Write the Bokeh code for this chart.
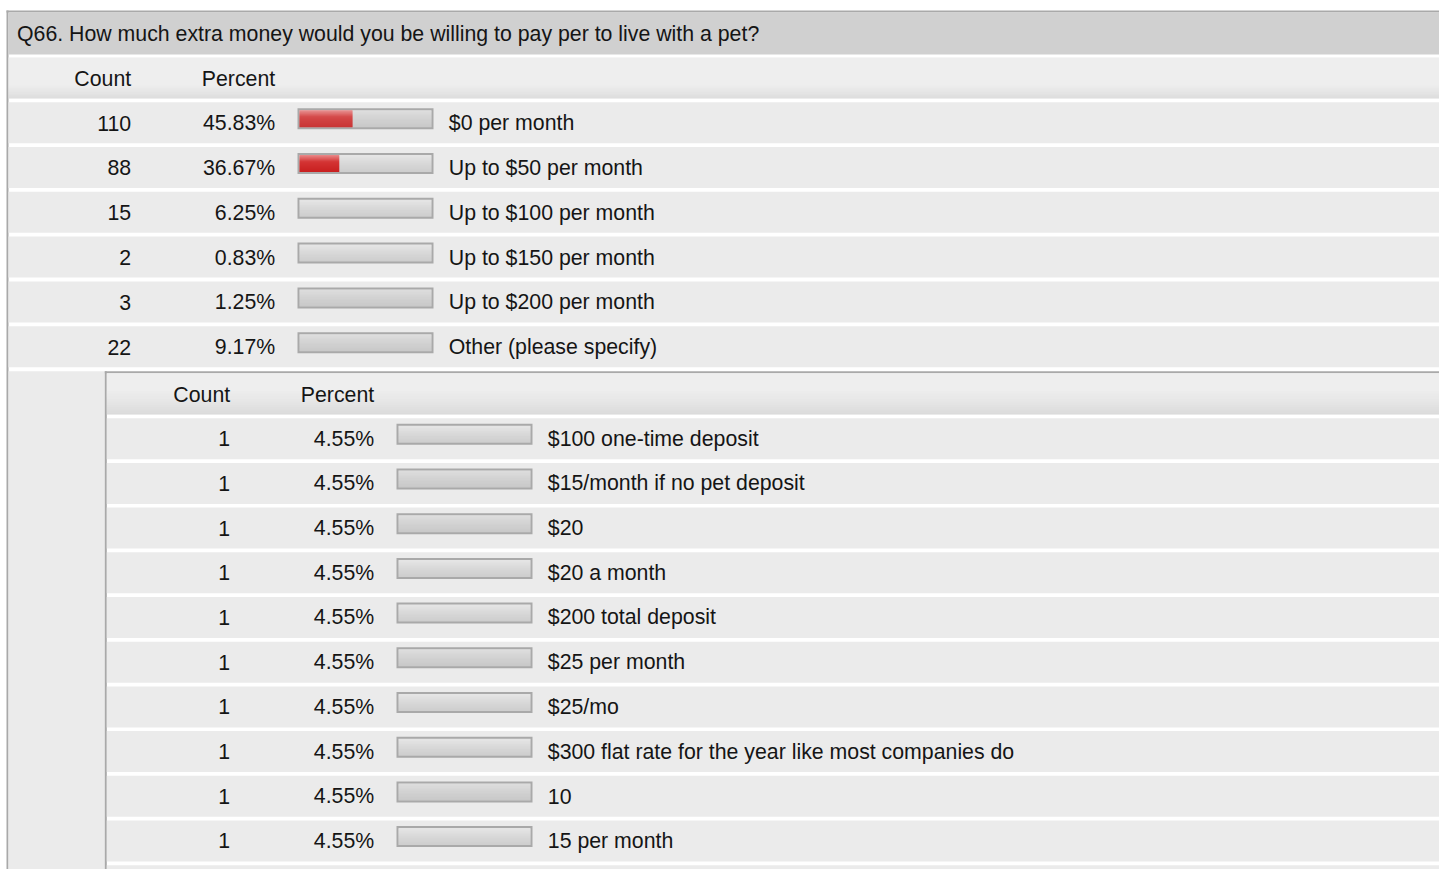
from bokeh.plotting import figure
from bokeh.models import Range1d
from bokeh.core.properties import value
from bokeh.embed import file_html
from bokeh.resources import INLINE

# ---------------- data ----------------
title = "Q66. How much extra money would you be willing to pay per to live with a pet?"
col_headers = ["Count", "Percent"]

answers = ["$0 per month", "Up to $50 per month", "Up to $100 per month",
           "Up to $150 per month", "Up to $200 per month", "Other (please specify)"]
answer_counts = [110, 88, 15, 2, 3, 22]
answer_pcts = [45.83, 36.67, 6.25, 0.83, 1.25, 9.17]

other_texts = ["$100 one-time deposit", "$15/month if no pet deposit", "$20", "$20 a month",
               "$200 total deposit", "$25 per month", "$25/mo",
               "$300 flat rate for the year like most companies do", "10", "15 per month"]
other_counts = [1, 1, 1, 1, 1, 1, 1, 1, 1, 1]
other_pcts = [4.55, 4.55, 4.55, 4.55, 4.55, 4.55, 4.55, 4.55, 4.55, 4.55]

# ---------------- figure ----------------
W, H = 1439, 869
XR, YB = W, H
p = figure(width=W, height=H, x_range=Range1d(0, W), y_range=Range1d(H, 0),
           output_backend="svg", toolbar_location=None, min_border=0,
           x_axis_type=None, y_axis_type=None,
           background_fill_color="white", border_fill_color="white",
           outline_line_color=None)
p.grid.visible = False

FONT = value("Liberation Sans")
FS = "21.3px"
TXT = "#151515"
ROW_BG = "#ebebeb"
BORDER = "#a9a9a9"
TY = -7.6   # text baseline correction


def hex2rgb(h):
    h = h.lstrip("#")
    return tuple(int(h[i:i + 2], 16) for i in (0, 2, 4))


def mix(c0, c1, t):
    a, b = hex2rgb(c0), hex2rgb(c1)
    return "#%02x%02x%02x" % tuple(int(round(a[k] + (b[k] - a[k]) * t)) for k in range(3))


def box(l, r, t, b, color):
    p.quad(left=[l], right=[r], top=[t], bottom=[b], fill_color=color, line_color=None)


def vgrad(l, r, t, b, stops, n=None):
    """vertical gradient; stops = [(frac, color), ...]"""
    if n is None:
        n = max(2, int(round(b - t)))
    L, R, T, B, C = [], [], [], [], []
    h = (b - t) / n
    for i in range(n):
        f = (i + 0.5) / n
        col = stops[-1][1]
        for j in range(len(stops) - 1):
            if stops[j][0] <= f <= stops[j + 1][0]:
                f0, c0 = stops[j]
                f1, c1 = stops[j + 1]
                col = mix(c0, c1, (f - f0) / (f1 - f0) if f1 > f0 else 0)
                break
        L.append(l); R.append(r); T.append(t + i * h)
        B.append(min(b, t + (i + 1) * h + 0.3)); C.append(col)
    p.quad(left=L, right=R, top=T, bottom=B, fill_color=C, line_color=None)


def bar(x, top, pct):
    box(x, x + 136, top, top + 21, BORDER)
    vgrad(x + 2, x + 134, top + 2, top + 19,
          [(0, "#e6e6e6"), (0.5, "#d8d8d8"), (1, "#cdcdcd")])
    fill = max(0.0, (pct - 9.2) * 1.447)
    if fill > 0:
        vgrad(x + 2, x + 2 + fill, top + 2, top + 19,
              [(0, "#ea8a8a"), (0.4, "#d43434"), (1, "#c81f1f")])


def txt(xs, ys, texts, align):
    p.text(x=xs, y=[y + TY for y in ys], text=texts, text_font=FONT, text_font_size=FS,
           text_align=align, text_baseline="alphabetic", text_color=TXT)


# ---------------- outer table ----------------
box(6, XR, 10, 12, BORDER)           # top border
box(6, 8, 10, YB, BORDER)            # left border
box(8, XR, 12, 54, "#d0d0d0")        # title band
vgrad(8, XR, 57, 98, [(0, ROW_BG), (0.68, ROW_BG), (1, "#d8d8d8")])
txt([16.5], [41.5], [title], "left")
CX, PX, LX = 130.7, 274.7, 448.3
txt([CX, PX], [86, 86], col_headers, "right")

PITCH = 44.8
rows_top = [101.7 + PITCH * i for i in range(len(answers))]
for t, pc in zip(rows_top, answer_pcts):
    box(8, XR, t, t + 41, ROW_BG)
    bar(297, t + 6, pc)

base = [t + 28.5 for t in rows_top]
txt([CX] * len(answers), base, [str(c) for c in answer_counts], "right")
txt([PX] * len(answers), base, ["%.2f%%" % v for v in answer_pcts], "right")
txt([LX] * len(answers), base, answers, "left")

# ---------------- nested "Other" table ----------------
NT = 370.7
box(8, 104.3, NT, YB, ROW_BG)            # left filler cell
box(104.3, 106.3, NT, YB, BORDER)        # nested left border
box(104.3, XR, NT, NT + 2, BORDER)       # nested top border
vgrad(106.3, XR, NT + 2, 414, [(0, ROW_BG), (0.47, ROW_BG), (1, "#d5d5d5")])
DX = 99
txt([CX + DX, PX + DX], [401.7, 401.7], col_headers, "right")

NPITCH = 44.7
nrows_top = [417.7 + NPITCH * i for i in range(len(other_texts))]
for t, pc in zip(nrows_top, other_pcts):
    box(106.3, XR, t, t + 41, ROW_BG)
    bar(297 + DX, t + 5.6, pc)
# start of the next row (cut off by the window)
box(106.3, XR, 417.7 + NPITCH * len(other_texts), YB + 50, ROW_BG)

nbase = [t + 28 for t in nrows_top]
txt([CX + DX] * len(other_texts), nbase, [str(c) for c in other_counts], "right")
txt([PX + DX] * len(other_texts), nbase, ["%.2f%%" % v for v in other_pcts], "right")
txt([LX + DX] * len(other_texts), nbase, other_texts, "left")

open("out.html", "w").write(file_html(p, INLINE))
